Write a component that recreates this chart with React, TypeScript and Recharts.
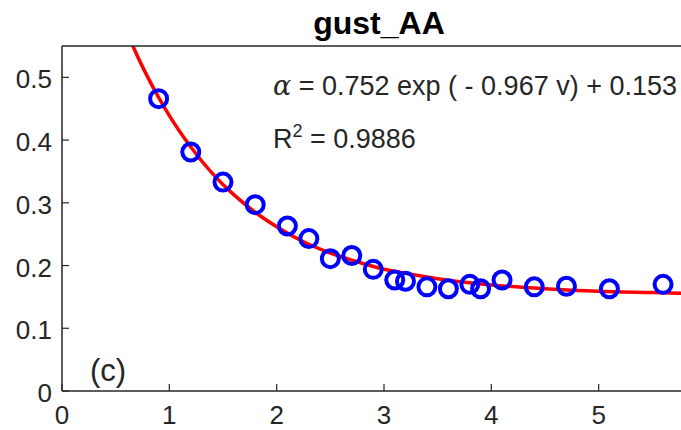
import React from 'react';
import { ComposedChart, Scatter, Line, XAxis, YAxis } from 'recharts';

// measured points (wind speed v vs alpha)
const speedObs = [0.9, 1.2, 1.5, 1.8, 2.1, 2.3, 2.5, 2.7, 2.9, 3.1, 3.2, 3.4, 3.6, 3.8, 3.9, 4.1, 4.4, 4.7, 5.1, 5.6];
const alphaObs = [0.466, 0.381, 0.333, 0.297, 0.263, 0.243, 0.211, 0.216, 0.194, 0.177, 0.175, 0.166, 0.163, 0.17, 0.163, 0.177, 0.166, 0.167, 0.163, 0.17];

// fitted curve
const fitSpeed = [0.6, 0.7, 0.8, 0.9, 1.0, 1.2, 1.4, 1.6, 1.8, 2.0, 2.25, 2.5, 2.75, 3.0, 3.25, 3.5, 4.0, 4.5, 5.0, 5.5, 6.0];
const fitAlpha = [0.574, 0.535, 0.5, 0.468, 0.439, 0.389, 0.347, 0.313, 0.285, 0.262, 0.238, 0.22, 0.206, 0.194, 0.186, 0.179, 0.169, 0.163, 0.159, 0.157, 0.155];

const xTicks = [0, 1, 2, 3, 4, 5];
const yTicks = [0, 0.1, 0.2, 0.3, 0.4, 0.5];
const yTickLabels = ['0', '0.1', '0.2', '0.3', '0.4', '0.5'];

const obsData = speedObs.map((v, i) => ({ v, a: alphaObs[i] }));
const fitData = fitSpeed.map((v, i) => ({ v, a: fitAlpha[i] }));

const FONT = '"Liberation Sans", Arial, sans-serif';
const AXIS = '#262626';
const TICK_LEN = 7;

const BottomTick = (p: any) => (
  <g>
    <line x1={p.x} y1={p.y} x2={p.x} y2={p.y - TICK_LEN} stroke={AXIS} strokeWidth={1.2} />
    <text x={p.x} y={p.y + 33} textAnchor="middle" fontSize={26} fontFamily={FONT} fill={AXIS}>
      {p.payload.value}
    </text>
  </g>
);

const TopTick = (p: any) => (
  <line x1={p.x} y1={p.y} x2={p.x} y2={p.y + TICK_LEN} stroke={AXIS} strokeWidth={1.2} />
);

const LeftTick = (p: any) => {
  const idx = yTicks.findIndex((t) => Math.abs(t - p.payload.value) < 1e-9);
  return (
    <g>
      <line x1={p.x} y1={p.y} x2={p.x + TICK_LEN} y2={p.y} stroke={AXIS} strokeWidth={1.2} />
      <text x={p.x - 10} y={p.y + 11} textAnchor="end" fontSize={26} fontFamily={FONT} fill={AXIS}>
        {idx >= 0 ? yTickLabels[idx] : p.payload.value}
      </text>
    </g>
  );
};

const RingDot = (p: any) => (
  <circle cx={p.cx} cy={p.cy} r={8.5} fill="none" stroke="#0000ff" strokeWidth={4} />
);

export default function App() {
  return (
    <div style={{ position: 'absolute', left: 0, top: 0, width: 681, height: 430, overflow: 'hidden', background: '#fff' }}>
      <ComposedChart width={720} height={430} margin={{ top: 26, right: 14, bottom: 0, left: 0 }}>
        <XAxis
          xAxisId="top" orientation="top" dataKey="v" type="number" domain={[0, 6]} ticks={xTicks}
          height={20} tickSize={0} tickMargin={0} tickLine={false}
          axisLine={{ stroke: AXIS, strokeWidth: 1.5 }} tick={<TopTick />}
        />
        <XAxis
          dataKey="v" type="number" domain={[0, 6]} ticks={xTicks} height={39}
          tickSize={0} tickMargin={0} tickLine={false}
          axisLine={{ stroke: AXIS, strokeWidth: 1.5 }} tick={<BottomTick />}
        />
        <YAxis
          type="number" domain={[0, 0.55]} allowDataOverflow ticks={yTicks} width={62}
          tickSize={0} tickMargin={0} tickLine={false}
          axisLine={{ stroke: AXIS, strokeWidth: 1.5 }} tick={<LeftTick />}
        />
        <Scatter data={obsData} dataKey="a" shape={<RingDot />} isAnimationActive={false} />
        <Line data={fitData} dataKey="a" type="monotone" stroke="#ff0000" strokeWidth={3.5}
              dot={false} activeDot={false} isAnimationActive={false} />
      </ComposedChart>
      <svg width={681} height={430} style={{ position: 'absolute', left: 0, top: 0, pointerEvents: 'none' }}>
        <text x={379} y={34} textAnchor="middle" fontSize={32} fontWeight="bold" fontFamily={FONT} fill="#000">
          gust_AA
        </text>
        <text x={273} y={95} fontSize={27} fontFamily={FONT} fill={AXIS}>
          <tspan fontFamily='"DejaVu Serif", serif' fontStyle="italic">α</tspan>
          <tspan> = 0.752 exp ( - 0.967 v) + 0.153</tspan>
        </text>
        <text x={273} y={148} fontSize={27} fontFamily={FONT} fill={AXIS}>
          <tspan>R</tspan>
          <tspan fontSize={18} dy={-11}>2</tspan>
          <tspan dy={11}> = 0.9886</tspan>
        </text>
        <text x={90} y={381} fontSize={31} fontFamily={FONT} fill={AXIS}>(c)</text>
      </svg>
    </div>
  );
}
